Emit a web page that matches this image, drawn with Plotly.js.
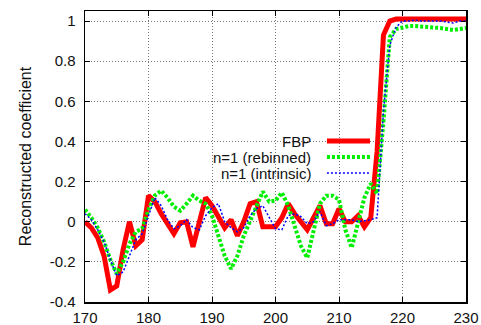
<!DOCTYPE html>
<html>
<head>
<meta charset="utf-8">
<script src="https://cdn.plot.ly/plotly-3.0.1.min.js"></script>
<style>html,body{margin:0;padding:0;background:#fff;}#chart{width:481px;height:325px;}</style>
</head>
<body>
<div id="chart"></div>
<script>
// x positions (detector bin)
const xBins = [170,171,172,173,174,175,176,177,178,179,180,181,182,183,184,185,186,187,188,189,190,191,192,193,194,195,196,197,198,199,200,201,202,203,204,205,206,207,208,209,210,211,212,213,214,215,216,217,218,219,220,221,222,223,224,225,226,227,228,229,230];

const fbp = [0.0,-0.03,-0.08,-0.17,-0.34,-0.32,-0.14,0.0,-0.12,-0.09,0.13,0.10,0.04,-0.01,-0.06,-0.005,0.0,-0.125,0.0,0.12,0.08,0.02,-0.03,0.01,-0.07,0.0,0.09,0.10,-0.025,-0.025,-0.025,0.02,0.09,0.04,0.0,-0.04,0.02,0.08,-0.01,-0.01,0.065,0.0,0.0,0.03,-0.025,0.02,0.35,0.93,1.0,1.01,1.01,1.01,1.01,1.01,1.01,1.01,1.01,1.01,1.01,1.01,1.01];

const rebinned = [0.06,0.02,-0.03,-0.10,-0.19,-0.26,-0.20,-0.11,-0.05,-0.035,0.06,0.13,0.155,0.12,0.075,0.055,0.09,0.13,0.105,0.09,0.03,-0.07,-0.17,-0.235,-0.17,-0.07,0.0,0.08,0.15,0.10,0.105,0.145,0.08,-0.02,-0.12,-0.18,-0.04,0.09,0.13,0.13,0.11,-0.04,-0.13,0.0,0.12,0.19,0.14,0.5,0.92,0.96,0.97,0.975,0.975,0.973,0.97,0.97,0.965,0.96,0.955,0.96,0.965];

const intrinsic = [0.04,0.01,-0.04,-0.10,-0.19,-0.27,-0.25,-0.17,-0.09,-0.06,0.03,0.12,0.08,0.01,-0.035,-0.02,0.01,-0.03,-0.04,0.03,0.07,0.09,0.0,-0.03,-0.05,-0.03,0.03,0.065,0.08,0.02,-0.035,-0.04,0.03,0.04,0.025,-0.01,0.0,0.05,-0.02,-0.01,0.01,0.01,0.01,0.0,0.005,0.01,0.02,0.55,0.88,0.97,1.0,1.0,1.005,1.0,1.0,1.0,1.0,0.995,0.99,1.0,1.0];

const seriesNames = ['FBP','n=1 (rebinned)','n=1 (intrinsic)'];
const xTickVals = [170,180,190,200,210,220,230];
const yTickVals = [-0.4,-0.2,0,0.2,0.4,0.6,0.8,1];
const yTickText = ['-0.4','-0.2','0','0.2','0.4','0.6','0.8','1'];

const RED = '#ff0000', GREEN = '#00ee00', BLUE = '#0000ff';
const FONT = 'Liberation Sans, Arial, sans-serif';

const traces = [
  {x: xBins, y: fbp, name: seriesNames[0], mode: 'lines', line: {color: RED, width: 5}},
  {x: xBins, y: rebinned, name: seriesNames[1], mode: 'lines', line: {color: GREEN, width: 4, dash: '3px,2px'}},
  {x: xBins, y: intrinsic, name: seriesNames[2], mode: 'lines', line: {color: BLUE, width: 1.5, dash: '2px,2px'}}
];

// legend geometry in paper coordinates
const legTextX = 0.598, legLineX0 = 0.635, legLineX1 = 0.748;
const legY = [0.553, 0.498, 0.443];
const styles = [traces[0].line, traces[1].line, traces[2].line];

const shapes = [
  {type: 'rect', xref: 'paper', yref: 'paper', x0: 0.223, x1: 0.77, y0: 0.418, y1: 0.581,
   fillcolor: '#ffffff', line: {width: 0}, layer: 'between'}
];
const annotations = [];
for (let i = 0; i < 3; i++) {
  shapes.push({type: 'line', xref: 'paper', yref: 'paper', x0: legLineX0, x1: legLineX1, y0: legY[i], y1: legY[i],
    line: {color: styles[i].color, width: styles[i].width, dash: styles[i].dash}, layer: 'above'});
  annotations.push({xref: 'paper', yref: 'paper', x: legTextX, y: legY[i], xanchor: 'right', yanchor: 'middle',
    text: seriesNames[i], showarrow: false, font: {size: 15, color: '#111', family: FONT}});
}

const axisCommon = {
  showline: true, linecolor: '#000', linewidth: 1.5, mirror: 'allticks',
  ticks: 'inside', ticklen: 5, tickwidth: 1, tickcolor: '#000',
  showgrid: true, gridcolor: '#777', gridwidth: 1, griddash: '1px,2px',
  zeroline: false, tickfont: {size: 15, color: '#111', family: FONT}
};

const layout = {
  width: 481, height: 325,
  margin: {l: 85, r: 15, t: 11, b: 23, pad: 0},
  paper_bgcolor: '#fff', plot_bgcolor: '#fff',
  showlegend: false,
  xaxis: Object.assign({}, axisCommon, {range: [170, 230], tickvals: xTickVals, ticklabelstandoff: 1}),
  yaxis: Object.assign({}, axisCommon, {range: [-0.4, 1.05], tickvals: yTickVals, ticktext: yTickText, ticklabelstandoff: 5,
    title: {text: 'Reconstructed coefficient', standoff: 14, font: {size: 16, color: '#111', family: FONT}}}),
  shapes: shapes,
  annotations: annotations
};

Plotly.newPlot('chart', traces, layout, {staticPlot: true, displayModeBar: false});
</script>
</body>
</html>
